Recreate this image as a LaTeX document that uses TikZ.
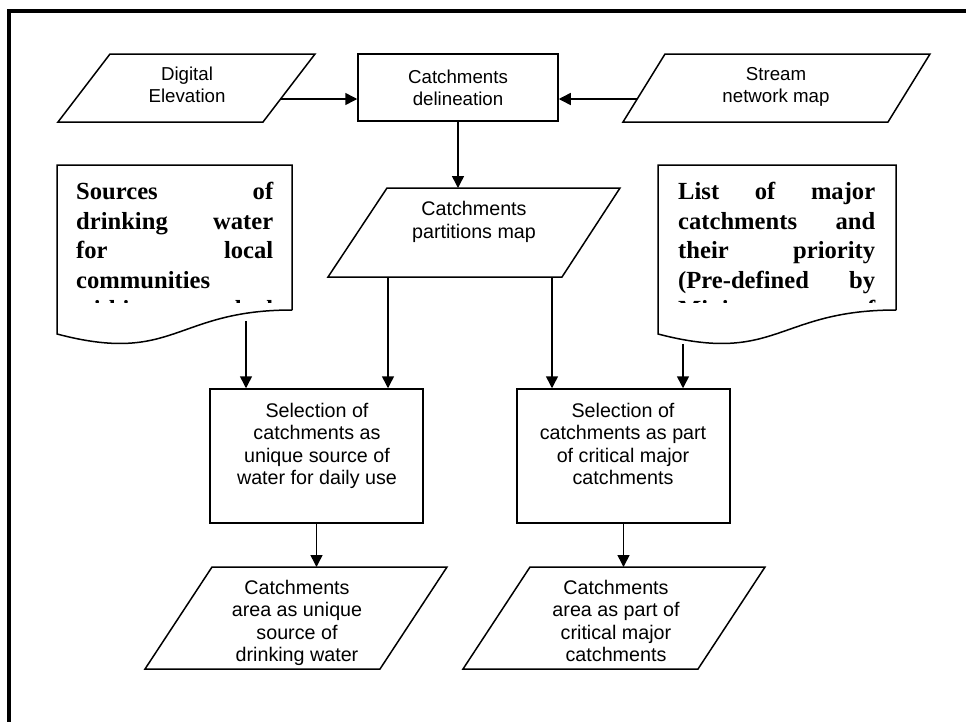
\documentclass[tikz,border=0pt]{standalone}
\usepackage{fontspec}
\setmainfont{Liberation Serif}
\newfontfamily\arialfont{Liberation Sans}
\usetikzlibrary{arrows.meta}
\begin{document}
\begin{tikzpicture}[x=1pt,y=-1pt,
    shp/.style={draw,line width=1.5pt,line join=miter},
    procbox/.style={shp,rectangle,inner sep=0pt},
    lbl/.style={align=center,inner sep=0pt,font=\arialfont\fontsize{19.7}{22.5}\selectfont},
    toplbl/.style={lbl,font=\arialfont\fontsize{18.7}{22}\selectfont},
    doctext/.style={align=left,inner sep=0pt,text width=197pt,anchor=north west,
      font=\bfseries\fontsize{24.6}{29.5}\selectfont},
    flow/.style={line width=1.5pt,-{Triangle[length=12pt,width=12pt]}}]
      \useasboundingbox (0,0) rectangle (966,721);
      \clip (0,0) rectangle (966,721);
      \draw[line width=3.5pt] (9,760) -- (9,11) -- (1000,11);
      \draw[shp] (110,54) -- (315,54) -- (263,122) -- (58,122) -- cycle;
      \draw[shp] (665,54) -- (930,54) -- (888,122) -- (623,122) -- cycle;
      \draw[shp] (387,188) -- (620,188) -- (562,277) -- (328,277) -- cycle;
      \draw[shp] (212,567) -- (447,567) -- (380,669) -- (145,669) -- cycle;
      \draw[shp] (530,567) -- (765,567) -- (698,669) -- (463,669) -- cycle;
      \draw[shp] (292,310) -- (292,165) -- (57,165) -- (57,334)
        .. controls (174.5,365) and (174.5,310) .. (292,310);
      \draw[shp] (896,310) -- (896,165) -- (658,165) -- (658,334)
        .. controls (777,365) and (777,310) .. (896,310);
      \draw
        (187,85) node[toplbl] (dem) {Digital\\Elevation}
        (458,87.5) node[procbox,toplbl,minimum width=200pt,minimum height=67pt] (dlin) {Catchments\\delineation}
        (776,87) node[toplbl] (snet) {Stream\\network map}
        (474,222) node[lbl] (pmap) {Catchments\\partitions map}
        (316.5,456) node[procbox,minimum width=213pt,minimum height=134pt] (selU) {}
        (623.5,456) node[procbox,minimum width=213pt,minimum height=134pt] (selC) {}
        (317,446) node[lbl] (selUt) {Selection of\\catchments as\\unique source of\\water for daily use}
        (623,444) node[lbl] (selCt) {Selection of\\catchments as part\\of critical major\\catchments}
        (297,623) node[lbl] (areaU) {Catchments\\area as unique\\source of\\drinking water}
        (616,621) node[lbl] (areaC) {Catchments\\area as part of\\critical major\\catchments};
      \begin{scope}
        \clip (57,165) rectangle (292,302.5);
        \node[doctext] (srcw) at (76,182) {Sources\hfill of\\drinking\hfill water\\for\hfill local\\communities\\within\hfill watershed};
      \end{scope}
      \begin{scope}
        \clip (658,165) rectangle (896,302.5);
        \node[doctext] (lst) at (678,182) {List\hfill of\hfill major\\catchments\hfill and\\their\hfill priority\\(Pre-defined\hfill by\\Ministry\hfill of};
      \end{scope}
      \coordinate (demE) at (281,99);
      \coordinate (snetW) at (637,99);
      \coordinate (pmapN) at (458,188);
      \coordinate (pmapA) at (388,277);
      \coordinate (pmapB) at (552,277);
      \coordinate (srcwS) at (246,321);
      \coordinate (lstS) at (683,344);
      \coordinate (areaUN) at (316.5,567);
      \coordinate (areaCN) at (623.5,567);
      \begin{scope}[flow]
        \draw (demE) to (demE -| dlin.west);
        \draw (snetW) to (snetW -| dlin.east);
        \draw (dlin.south) to (pmapN);
        \draw (srcwS) to (srcwS |- selU.north);
        \draw (pmapA) to (pmapA |- selU.north);
        \draw (pmapB) to (pmapB |- selC.north);
        \draw (lstS) to (lstS |- selC.north);
        \draw (selU.south) to (areaUN);
        \draw (selC.south) to (areaCN);
      \end{scope}
    \end{tikzpicture}
\end{document}
